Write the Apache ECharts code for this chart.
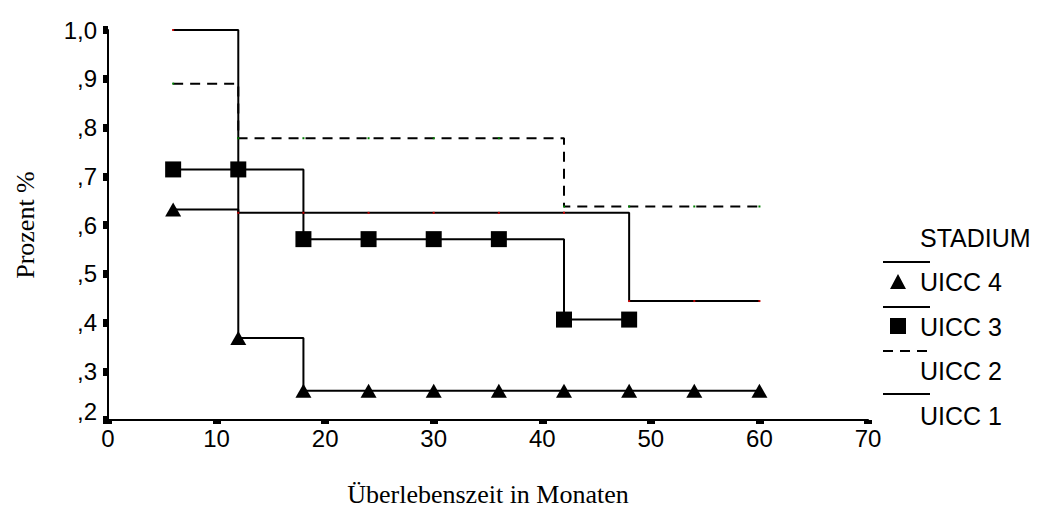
<!DOCTYPE html>
<html>
<head>
<meta charset="utf-8">
<script src="https://cdn.jsdelivr.net/npm/echarts@6/dist/echarts.min.js"></script>
<style>
  html, body { margin: 0; padding: 0; background: #fff; }
  #chart { width: 1039px; height: 512px; }
</style>
</head>
<body>
<div id="chart"></div>
<script>
// Überlebenszeit (Monate) und Überlebensanteil je Stadium
var months = [6, 12, 18, 24, 30, 36, 42, 48, 54, 60];
var uicc1 = [1.0, 0.625, 0.625, 0.625, 0.625, 0.625, 0.625, 0.444, 0.444, 0.444];
var uicc2 = [0.89, 0.778, 0.778, 0.778, 0.778, 0.778, 0.638, 0.638, 0.638, 0.638];
var uicc3 = [0.714, 0.714, 0.571, 0.571, 0.571, 0.571, 0.406, 0.406];
var uicc4 = [0.632, 0.368, 0.26, 0.26, 0.26, 0.26, 0.26, 0.26, 0.26, 0.26];
var yTickLabels = [',2', ',3', ',4', ',5', ',6', ',7', ',8', ',9', '1,0'];
var legendNames = ['STADIUM', 'UICC 4', 'UICC 3', 'UICC 2', 'UICC 1'];

function pairs(ys) {
  return ys.map(function (y, i) { return [months[i], y]; });
}

var chart = echarts.init(document.getElementById('chart'), null, { renderer: 'svg' });

var sansFont = '"Liberation Sans", Arial, sans-serif';
var serifFont = '"Liberation Serif", "Times New Roman", serif';
var legendFont = '25px ' + sansFont;

var lx = 920;      // legend text left
var ly0 = 238;     // first legend row (text centre)
var lstep = 44.5;

chart.setOption({
  animation: false,
  grid: { left: 108, right: 171, top: 30, bottom: 87 },
  xAxis: {
    type: 'value',
    min: 0, max: 70, interval: 10,
    name: 'Überlebenszeit in Monaten',
    nameLocation: 'middle',
    nameGap: 61,
    nameTextStyle: { fontFamily: serifFont, fontSize: 26, color: '#000' },
    axisLine: { lineStyle: { color: '#000', width: 2 } },
    axisTick: { length: 4, lineStyle: { color: '#000', width: 8 } },
    axisLabel: { fontFamily: sansFont, fontSize: 24, color: '#000', margin: 6 },
    splitLine: { show: false }
  },
  yAxis: {
    type: 'value',
    min: 0.2, max: 1.0, interval: 0.1,
    name: 'Prozent %',
    nameLocation: 'middle',
    nameGap: 70,
    nameTextStyle: { fontFamily: serifFont, fontSize: 26, color: '#000' },
    axisLine: { show: true, lineStyle: { color: '#000', width: 2 } },
    axisTick: { show: true, length: 5, lineStyle: { color: '#000', width: 8 } },
    axisLabel: {
      fontFamily: sansFont, fontSize: 24, color: '#000', margin: 11,
      formatter: function (v) {
        var i = Math.round(v * 10) - 2;
        return i === 0 ? '{low|' + yTickLabels[i] + '}' : yTickLabels[i];
      },
      rich: {
        low: { fontFamily: sansFont, fontSize: 24, color: '#000', padding: [0, 0, 18, 0] }
      }
    },
    splitLine: { show: false }
  },
  series: [
    {
      name: 'UICC 1', type: 'line', step: 'end', data: pairs(uicc1),
      symbol: 'rect', symbolSize: 2, itemStyle: { color: '#c00000' },
      lineStyle: { color: '#000', width: 2 }
    },
    {
      name: 'UICC 2', type: 'line', step: 'end', data: pairs(uicc2),
      symbol: 'rect', symbolSize: 2, itemStyle: { color: '#008000' },
      lineStyle: { color: '#000', width: 2, type: [10, 7] }
    },
    {
      name: 'UICC 3', type: 'line', step: 'end', data: pairs(uicc3),
      symbol: 'rect', symbolSize: 16, itemStyle: { color: '#000' },
      lineStyle: { color: '#000', width: 2 }, z: 3
    },
    {
      name: 'UICC 4', type: 'line', step: 'end', data: pairs(uicc4),
      symbol: 'triangle', symbolSize: [16, 14], itemStyle: { color: '#000' },
      lineStyle: { color: '#000', width: 2 }, z: 3
    }
  ],
  graphic: [
    { type: 'text', left: lx, top: ly0 - 13, style: { text: legendNames[0], font: legendFont, fill: '#000' } },
    { type: 'line', shape: { x1: 883, y1: 262, x2: 930, y2: 262 }, style: { stroke: '#000', lineWidth: 2 } },
    { type: 'polygon', shape: { points: [[898, 274], [890, 289], [906, 289]] }, style: { fill: '#000' } },
    { type: 'text', left: lx, top: ly0 + lstep - 13, style: { text: legendNames[1], font: legendFont, fill: '#000' } },
    { type: 'line', shape: { x1: 883, y1: 307, x2: 930, y2: 307 }, style: { stroke: '#000', lineWidth: 2 } },
    { type: 'rect', shape: { x: 890, y: 318, width: 16, height: 16 }, style: { fill: '#000' } },
    { type: 'text', left: lx, top: ly0 + 2 * lstep - 13, style: { text: legendNames[2], font: legendFont, fill: '#000' } },
    { type: 'line', shape: { x1: 883, y1: 351, x2: 930, y2: 351 }, style: { stroke: '#000', lineWidth: 2, lineDash: [10, 7] } },
    { type: 'text', left: lx, top: ly0 + 3 * lstep - 13, style: { text: legendNames[3], font: legendFont, fill: '#000' } },
    { type: 'line', shape: { x1: 883, y1: 394, x2: 930, y2: 394 }, style: { stroke: '#000', lineWidth: 2 } },
    { type: 'text', left: lx, top: ly0 + 4 * lstep - 13, style: { text: legendNames[4], font: legendFont, fill: '#000' } }
  ]
});
</script>
</body>
</html>
